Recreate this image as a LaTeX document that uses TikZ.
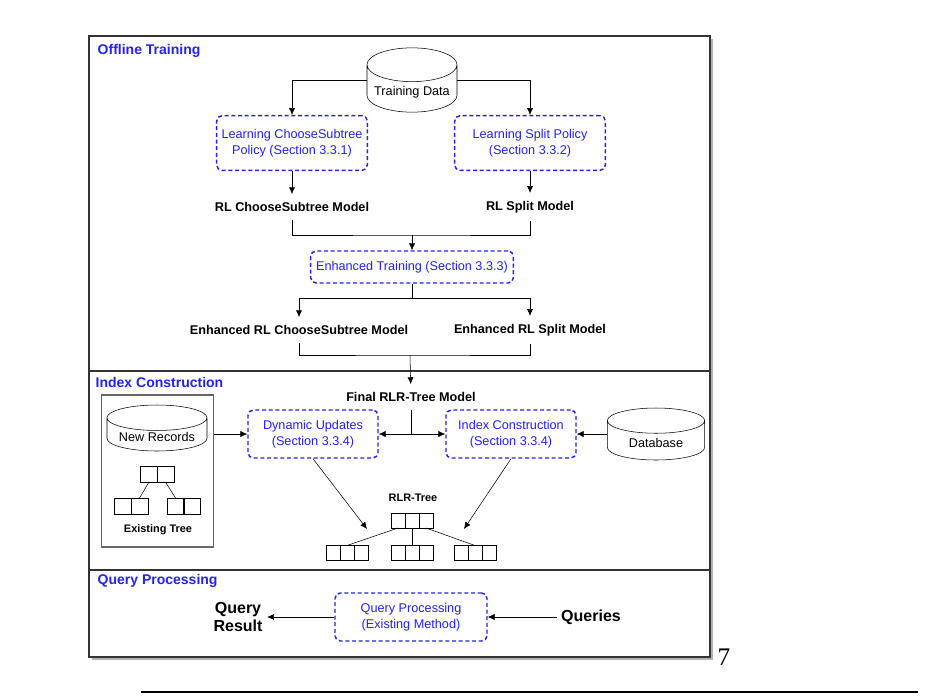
\documentclass[tikz,border=0pt]{standalone}
\usepackage{fontspec}
\setmainfont{Liberation Sans}
\newfontfamily\pageserif{Liberation Serif}
\usetikzlibrary{arrows.meta}
\usetikzlibrary{shapes.geometric}
\definecolor{secblue}{RGB}{35,35,235}

\begin{document}
\begin{tikzpicture}[x=0.75pt,y=-0.75pt]
        \tikzset{policy/.style = {shape=rectangle,draw=secblue,line width=1.1pt,dash pattern=on 3pt off 2pt,rounded corners=4pt,text=secblue,align=center,font=\fontsize{9.5}{12}\selectfont}}
        \tikzset{model/.style = {font=\bfseries\fontsize{9.5}{12}\selectfont,inner ysep=6pt}}
        \tikzset{small/.style = {font=\bfseries\fontsize{8.2}{10}\selectfont}}
        \tikzset{big/.style = {align=center,font=\bfseries\fontsize{12}{14}\selectfont}}
        \tikzset{section/.style = {anchor=west,text=secblue,font=\bfseries\fontsize{10.5}{12}\selectfont}}
        \tikzset{store/.style = {cylinder,shape border rotate=90,draw,aspect=0.4,anchor=shape center,font=\fontsize{9.5}{12}\selectfont}}
        \tikzset{cell/.style = {shape=rectangle,draw,minimum width=10.5pt,minimum height=11.25pt,inner sep=0pt,outer sep=0pt}}
        \tikzset{edge/.style = {-{Latex[length=1.8mm,width=1.6mm]}}}
        \useasboundingbox (0,0) rectangle (927,697);
        \fill[black!30] (92,39) rectangle (713,660);
        \fill[white] (89,36) rectangle (710,657);
        \draw[line width=1.3pt,black!80] (89,36) rectangle (710,657);
        \draw[line width=1.3pt,black!80] (89,371) -- (710,371);
        \draw[line width=1.3pt,black!80] (89,570) -- (710,570);

        \node[section] (t1) at (93,51) {Offline Training};
        \node[store,minimum width=67.5pt,minimum height=41pt] (data) at (412,80) {Training Data};
        \node[policy,minimum width=113pt,minimum height=41pt] (lcs) at (292,143) {Learning ChooseSubtree\\Policy (Section 3.3.1)};
        \node[policy,minimum width=113pt,minimum height=41pt] (lsp) at (530,143) {Learning Split Policy\\(Section 3.3.2)};
        \node[model] (mcs) at (292,207) {RL ChooseSubtree Model};
        \node[model] (msp) at (530,207) {RL Split Model};
        \coordinate (j1) at (412,235);
        \node[policy,minimum width=152pt,minimum height=24pt,inner xsep=1pt] (enh) at (412,267) {Enhanced Training (Section 3.3.3)};
        \coordinate (j2) at (412,298);
        \node[model] (emcs) at (299,330) {Enhanced RL ChooseSubtree Model};
        \node[model] (emsp) at (530,330) {Enhanced RL Split Model};
        \coordinate (j3) at (410,355);

        \node[section] (t2) at (91,382) {Index Construction};
        \node[model] (final) at (411,397) {Final RLR-Tree Model};
        \coordinate (j4) at (411,434);
        \node[policy,minimum width=97.5pt,minimum height=36pt] (dyn) at (313,434) {Dynamic Updates\\(Section 3.3.4)};
        \node[policy,minimum width=97.5pt,minimum height=36pt] (idx) at (511,434) {Index Construction\\(Section 3.3.4)};
        \node[store,minimum width=73pt,minimum height=39pt] (db) at (656,434) {Database};
        \node[draw=black!60,line width=1.1pt,minimum width=84pt,minimum height=114pt] (oldbox) at (157.5,471) {};
        \node[store,minimum width=75pt,minimum height=34.5pt,inner ysep=0.5pt,aspect=0.3] (newrec) at (157,428) {New Records};
        \foreach \n/\x in {e1/149,e2/165.5}
            \node[cell,minimum width=12.4pt,minimum height=12pt] (\n) at (\x,474) {};
        \foreach \n/\x in {el1/123,el2/139.5,er1/175.5,er2/192}
            \node[cell,minimum width=12.4pt,minimum height=12pt] (\n) at (\x,506) {};
        \node[small] (etree) at (158,530) {Existing Tree};
        \node[small] (rlr) at (413,498) {RLR-Tree};
        \foreach \i/\x in {1/398,2/412,3/426}
            \node[cell] (r\i) at (\x,520.5) {};
        \foreach \c/\x in {a/347,b/412,c/475}
            \foreach \i/\d in {1/-14,2/0,3/14}
                \node[cell] (\c\i) at (\x+\d,553) {};
        \coordinate (dend) at (367,529);
        \coordinate (iend) at (464,529);

        \node[section] (t3) at (93,581) {Query Processing};
        \node[policy,minimum width=114pt,minimum height=36pt] (qp) at (411,617) {Query Processing\\(Existing Method)};
        \node[big] (qres) at (238,617) {Query\\Result};
        \node[big] (qs) at (591,617) {Queries};
        \node[font=\pageserif\fontsize{19}{20}\selectfont] (pg) at (724,657) {7};
        \draw[line width=2pt] (141,692) -- (918,692);

        \draw[edge] (data.shape center -| data.west) -| (lcs.north);
        \draw[edge] (data.shape center -| data.east) -| (lsp.north);
        \draw[edge] (lcs) -- (mcs);
        \draw[edge] (lsp) -- (msp);
        \draw (mcs.south) |- (j1) -| (msp.south);
        \draw[edge] (j1) -- (enh);
        \draw (enh) -- (j2);
        \draw[edge] (j2) -| (emcs);
        \draw[edge] (j2) -| (emsp);
        \draw (emcs.south) |- (j3) -| (emsp.south);
        \draw[edge] (j3) -- (final);
        \draw (final) -- (j4);
        \draw[{Latex[length=1.8mm,width=1.6mm]}-{Latex[length=1.8mm,width=1.6mm]}] (dyn) -- (idx);
        \draw[edge] (db.shape center -| db.west) -- (idx.east);
        \draw[edge] (oldbox.east |- dyn) -- (dyn);
        \draw[edge] (dyn.south) -- (dend);
        \draw[edge] (idx.south) -- (iend);
        \draw (e1.south) -- (el2.north);
        \draw (e2.south) -- (er1.north);
        \draw (r1.south) -- (a2.north);
        \draw (r2) -- (b2);
        \draw (r3.south) -- (c2.north);
        \draw[edge] (qp) -- (qres);
        \draw[edge] (qs) -- (qp);
\end{tikzpicture}
\end{document}
